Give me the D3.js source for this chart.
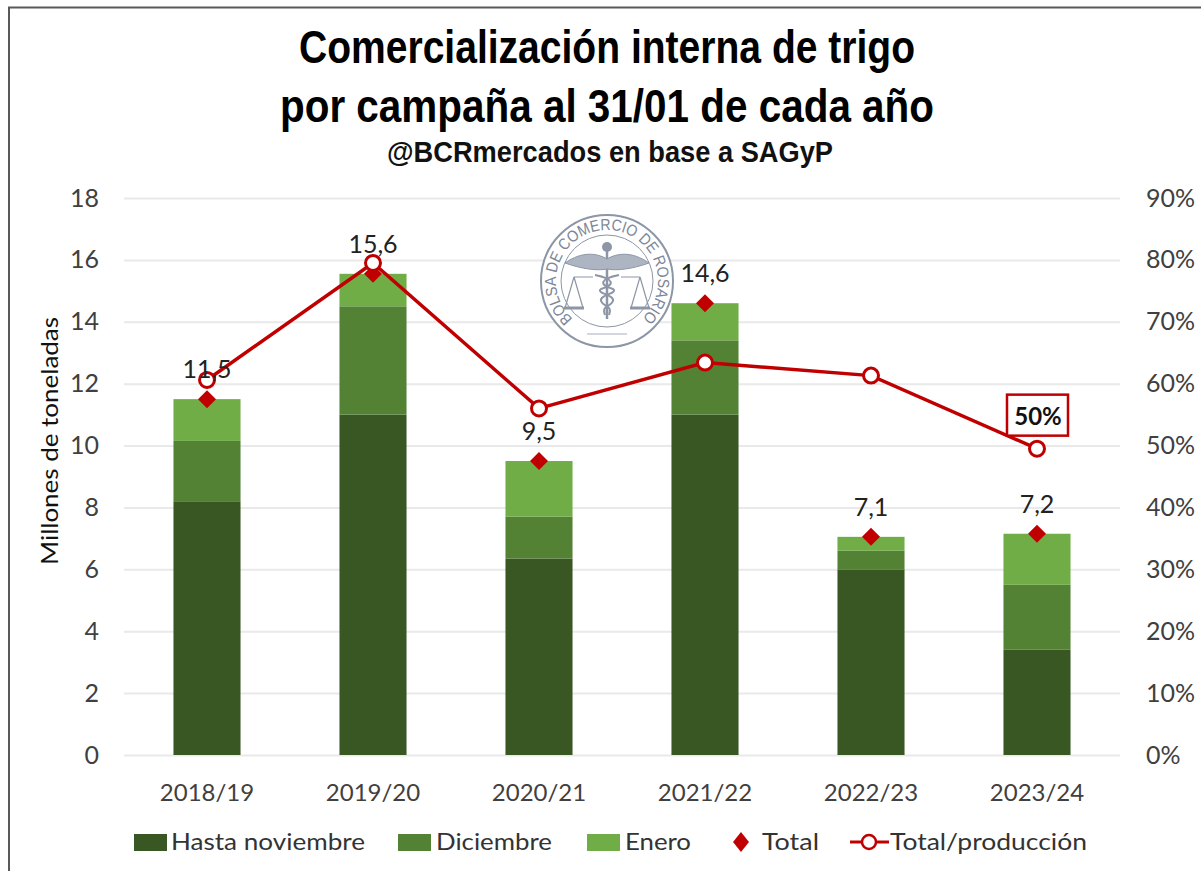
<!DOCTYPE html>
<html>
<head>
<meta charset="utf-8">
<script src="https://cdnjs.cloudflare.com/ajax/libs/d3/7.8.5/d3.min.js"></script>
<style>
  html, body { margin: 0; padding: 0; background: #fff; }
  svg { display: block; }
</style>
</head>
<body>
<div id="chart"></div>
<script>
const campaigns = ["2018/19", "2019/20", "2020/21", "2021/22", "2022/23", "2023/24"];
const hastaNoviembre = [8.2, 11.0, 6.35, 11.0, 6.0, 3.4];
const diciembre = [1.95, 3.5, 1.35, 2.4, 0.6, 2.1];
const enero = [1.35, 1.05, 1.8, 1.2, 0.45, 1.65];
const totalLabels = ["11,5", "15,6", "9,5", "14,6", "7,1", "7,2"];
const totals = [11.5, 15.55, 9.5, 14.6, 7.05, 7.15];
const totalProduccion = [0.606, 0.795, 0.56, 0.634, 0.613, 0.495];
const leftTicks = [0, 2, 4, 6, 8, 10, 12, 14, 16, 18];
const rightTicks = [0, 0.1, 0.2, 0.3, 0.4, 0.5, 0.6, 0.7, 0.8, 0.9];
const seriesNames = ["Hasta noviembre", "Diciembre", "Enero"];
const seriesColors = ["#385723", "#548235", "#70AD47"];

const width = 1201, height = 871;
const bodyFont = "Lato, 'Open Sans', sans-serif";
const titleFont = "'Liberation Sans', sans-serif";
const red = "#C00000";

const svg = d3.select("#chart").append("svg").attr("width", width).attr("height", height);
svg.append("rect").attr("width", width).attr("height", height).attr("fill", "#fff");

// outer frame of the picture
svg.append("path")
    .attr("d", "M9,871V7.5H1201")
    .attr("fill", "none").attr("stroke", "#595959").attr("stroke-width", 2);

const x = d3.scaleBand().domain(campaigns).range([124, 1120]).paddingInner(0.596).paddingOuter(0.298);
const y = d3.scaleLinear().domain([0, 18]).range([755, 198]);
const yRight = d3.scaleLinear().domain([0, 0.9]).range([755, 198]);
const cx = d => x(d) + x.bandwidth() / 2;

// gridlines and axes
const gridAxis = d3.axisLeft(y).tickValues(leftTicks).tickSize(-996).tickFormat("");
const grid = svg.append("g").attr("transform", "translate(124,0)").call(gridAxis);
grid.select(".domain").remove();
grid.selectAll("line").attr("stroke", "#E9E9E9").attr("stroke-width", 2);

const leftAxis = svg.append("g").attr("transform", "translate(124,0)")
    .call(d3.axisLeft(y).tickValues(leftTicks).tickSize(0).tickPadding(25));
const rightAxis = svg.append("g").attr("transform", "translate(1120,0)")
    .call(d3.axisRight(yRight).tickValues(rightTicks).tickSize(0).tickPadding(26).tickFormat(d3.format(".0%")));
const bottomAxis = svg.append("g").attr("transform", "translate(0,755)")
    .call(d3.axisBottom(x).tickSize(0).tickPadding(29));
[leftAxis, rightAxis, bottomAxis].forEach(function (axis) {
    axis.select(".domain").remove();
    axis.selectAll("text").attr("font-family", bodyFont).attr("font-size", 25).attr("fill", "#404040");
});
bottomAxis.selectAll("text").attr("font-size", 24);

svg.append("text")
    .attr("transform", "translate(58,441) rotate(-90)")
    .attr("text-anchor", "middle")
    .attr("font-family", bodyFont).attr("font-size", 23).attr("fill", "#111")
    .attr("textLength", 248).attr("lengthAdjust", "spacingAndGlyphs")
    .text("Millones de toneladas");

// stacked bars
const stackRows = campaigns.map((c, i) => ({
    campaign: c,
    "Hasta noviembre": hastaNoviembre[i],
    "Diciembre": diciembre[i],
    "Enero": enero[i]
}));
const stacked = d3.stack().keys(seriesNames)(stackRows);
svg.append("g").selectAll("g").data(stacked).join("g")
    .attr("fill", (d, i) => seriesColors[i])
    .selectAll("rect").data(d => d).join("rect")
    .attr("x", d => x(d.data.campaign))
    .attr("y", d => y(d[1]))
    .attr("width", x.bandwidth())
    .attr("height", d => y(d[0]) - y(d[1]));

// seal of the Bolsa, sits on top of the gridlines
function drawSeal(g) {
    const ink = "#8D96A6";
    g.append("circle").attr("r", 66).attr("fill", "#fff").attr("stroke", ink).attr("stroke-width", 2);
    g.append("circle").attr("r", 46).attr("fill", "none").attr("stroke", ink).attr("stroke-width", 1);
    g.append("path").attr("id", "sealArc").attr("d", "M-34.1,37.9A51,51 0 1 1 34.1,37.9").attr("fill", "none");
    g.append("text").attr("font-family", "'Liberation Sans', sans-serif").attr("font-size", 16)
        .attr("fill", "#7C8698")
        .append("textPath").attr("href", "#sealArc").attr("startOffset", "0")
        .attr("textLength", 244).attr("lengthAdjust", "spacingAndGlyphs")
        .text("BOLSA DE COMERCIO DE ROSARIO");
    // staff, wings and scales
    g.append("path").attr("d", "M0,-38V38").attr("stroke", ink).attr("stroke-width", 2.5).attr("fill", "none");
    g.append("path").attr("d", "M-42,-18C-25,-30 -10,-28 0,-22C10,-28 25,-30 42,-18C25,-12 10,-10 0,-12C-10,-10 -25,-12 -42,-18Z")
        .attr("fill", "#AEB5C2").attr("stroke", ink);
    g.append("circle").attr("cy", -34).attr("r", 5).attr("fill", ink);
    g.append("path").attr("d", "M-12,-6C8,-2 8,4 -6,8C-12,12 8,14 6,20C4,26 -6,24 -2,34M12,-6C-8,-2 -8,4 6,8C12,12 -8,14 -6,20C-4,26 6,24 2,34")
        .attr("fill", "none").attr("stroke", ink).attr("stroke-width", 2);
    g.append("path").attr("d", "M-14,-4H-33M14,-4H33M-33,-4L-42,27M-33,-4L-24,27M33,-4L24,27M33,-4L42,27")
        .attr("fill", "none").attr("stroke", ink).attr("stroke-width", 1.2);
    g.append("path").attr("d", "M-43,27H-23M23,27H43").attr("fill", "none").attr("stroke", ink).attr("stroke-width", 3);
    g.append("path").attr("d", "M-20,53H20").attr("fill", "none").attr("stroke", "#C4C9D2").attr("stroke-width", 1.5);
}
drawSeal(svg.append("g").attr("transform", "translate(607,281)"));

// Total/produccion line
const line = d3.line().x((d, i) => cx(campaigns[i])).y(d => yRight(d));
svg.append("path").datum(totalProduccion)
    .attr("d", line).attr("fill", "none").attr("stroke", red).attr("stroke-width", 3.5);

// total diamonds
const diamond = d3.symbol().type(d3.symbolDiamond2).size(206);
svg.append("g").selectAll("path").data(totals).join("path")
    .attr("d", diamond)
    .attr("transform", (d, i) => `translate(${cx(campaigns[i])},${y(d)})`)
    .attr("fill", red);

svg.append("g").selectAll("circle").data(totalProduccion).join("circle")
    .attr("cx", (d, i) => cx(campaigns[i]))
    .attr("cy", d => yRight(d))
    .attr("r", 7.5)
    .attr("fill", "#fff").attr("stroke", red).attr("stroke-width", 3);

svg.append("g").selectAll("text").data(totals).join("text")
    .attr("x", (d, i) => cx(campaigns[i]))
    .attr("y", d => y(d) - 21)
    .attr("text-anchor", "middle")
    .attr("font-family", bodyFont).attr("font-size", 25).attr("fill", "#222")
    .text((d, i) => totalLabels[i]);

// callout on the last campaign
const lastX = cx(campaigns[5]);
const lastY = yRight(totalProduccion[5]);
svg.append("rect")
    .attr("x", lastX - 30).attr("y", lastY - 54)
    .attr("width", 61).attr("height", 41)
    .attr("fill", "#fff").attr("stroke", red).attr("stroke-width", 2.5);
svg.append("text")
    .attr("x", lastX + 1).attr("y", lastY - 24)
    .attr("text-anchor", "middle")
    .attr("font-family", bodyFont).attr("font-size", 24).attr("font-weight", 700).attr("fill", "#111")
    .text("50%");

// titles, squeezed because there is no narrow bold font here
const titleLines = ["Comercialización interna de trigo", "por campaña al 31/01 de cada año"];
const titleWidths = [616, 654];
svg.append("g").selectAll("text").data(titleLines).join("text")
    .attr("x", 607)
    .attr("y", (d, i) => 63 + i * 59)
    .attr("text-anchor", "middle")
    .attr("font-family", titleFont).attr("font-size", 46).attr("font-weight", 700).attr("fill", "#000")
    .attr("textLength", (d, i) => titleWidths[i]).attr("lengthAdjust", "spacingAndGlyphs")
    .text(d => d);
svg.append("text")
    .attr("x", 610).attr("y", 162)
    .attr("text-anchor", "middle")
    .attr("font-family", titleFont).attr("font-size", 29).attr("font-weight", 700).attr("fill", "#111")
    .attr("textLength", 446).attr("lengthAdjust", "spacingAndGlyphs")
    .text("@BCRmercados en base a SAGyP");

// legend
const legendY = 842;
const legend = svg.append("g");
const swatchX = [134, 398, 587];
const labelX = [171, 436, 625];
const labelW = [194, 116, 66];
seriesNames.forEach(function (name, i) {
    legend.append("rect").attr("x", swatchX[i]).attr("y", legendY - 8).attr("width", 33).attr("height", 17).attr("fill", seriesColors[i]);
    legend.append("text").attr("x", labelX[i]).attr("y", legendY + 8).attr("textLength", labelW[i]).text(name);
});
legend.append("path").attr("d", d3.symbol().type(d3.symbolDiamond2).size(180))
    .attr("transform", `translate(741,${legendY}) scale(0.95,1.2)`).attr("fill", red);
legend.append("text").attr("x", 762).attr("y", legendY + 8).attr("textLength", 57).text("Total");
legend.append("line").attr("x1", 850).attr("x2", 889).attr("y1", legendY).attr("y2", legendY).attr("stroke", red).attr("stroke-width", 3);
legend.append("circle").attr("cx", 869).attr("cy", legendY).attr("r", 7).attr("fill", "#fff").attr("stroke", red).attr("stroke-width", 2.5);
legend.append("text").attr("x", 890).attr("y", legendY + 8).attr("textLength", 197).text("Total/producción");
legend.selectAll("text").attr("font-family", bodyFont).attr("font-size", 23).attr("lengthAdjust", "spacingAndGlyphs").attr("fill", "#333");
</script>
</body>
</html>
